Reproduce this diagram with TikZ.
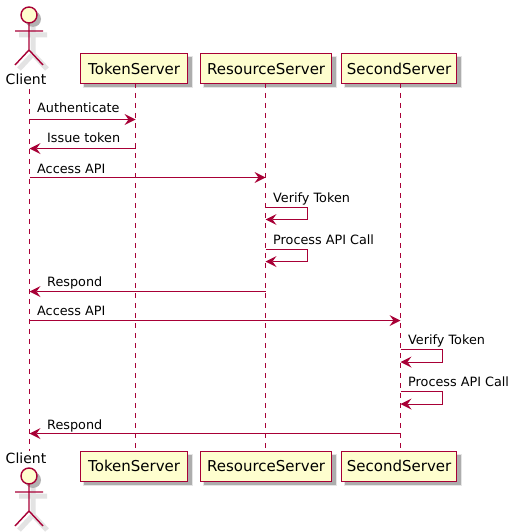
\documentclass[tikz,border=0pt]{standalone}
\usepackage{fontspec}
\setmainfont{DejaVu Sans}
\usetikzlibrary{arrows.meta}
\definecolor{pumlred}{HTML}{A80036}
\definecolor{pumlfill}{HTML}{FEFECE}
\tikzset{
  lifeline/.style={draw=pumlred,line width=0.8pt,dash pattern=on 5pt off 5pt},
  msg/.style={draw=pumlred,line width=0.9pt,-{Stealth[length=11pt,width=11pt,inset=4pt,fill=pumlred,line width=0pt]}},
  msglabel/.style={font=\fontsize{12.8}{15}\selectfont,anchor=base west,inner sep=0pt,text=black},
  partbox/.style={draw=pumlred,fill=pumlfill,line width=1.3pt,font=\fontsize{15}{16}\selectfont,text=black,minimum height=30pt,inner sep=0pt,anchor=north west},
  actorlabel/.style={font=\fontsize{14}{16}\selectfont,text=black,inner sep=0pt,anchor=base},
}
\newcommand{\actorshadow}[2]{%
  \begin{scope}[shift={(#1+4,#2+4)}]
    \fill[black!30] (0,0) circle (8);
    \draw[black!11,line width=5pt] (0,8)--(0,35) (-14,16)--(14,16) (0,35)--(-14,50) (0,35)--(14,50);
  \end{scope}}
\newcommand{\actorfig}[2]{%
  \begin{scope}[shift={(#1,#2)}]
    \draw[pumlred,line width=1.4pt,fill=pumlfill] (0,0) circle (8);
    \draw[pumlred,line width=1.4pt] (0,8)--(0,35) (-14,16)--(14,16) (0,35)--(-14,50) (0,35)--(14,50);
  \end{scope}}
\begin{document}
\begin{tikzpicture}[x=1pt,y=-1pt]
\useasboundingbox[fill=white] (0,0) rectangle (514,532);
% shadows of the boxes
\foreach \l/\r in {80/187,200/331,341/456}{
  \foreach \t in {53,450.5}{
    \fill[black!10] (\l+3,\t+3) rectangle (\r+5.5,\t+35.5);
    \fill[black!32] (\l+4,\t+4) rectangle (\r+4.5,\t+34.5);
  }
}
\actorshadow{29}{15}
\actorshadow{29}{476}
% participants
\node[partbox,minimum width=107pt] (tokentop) at (80,53) {TokenServer};
\node[partbox,minimum width=131pt] (restop) at (200,53) {ResourceServer};
\node[partbox,minimum width=115pt] (sectop) at (341,53) {SecondServer};
\node[partbox,minimum width=107pt] (tokenbot) at (80,450.5) {TokenServer};
\node[partbox,minimum width=131pt] (resbot) at (200,450.5) {ResourceServer};
\node[partbox,minimum width=115pt] (secbot) at (341,450.5) {SecondServer};
% actors
\actorfig{29}{15}
\actorfig{29}{476}
\node[actorlabel] (clienttop) at (26,85) {Client};
\node[actorlabel] (clientbot) at (26,463) {Client};
% lifeline ends
\coordinate (cta) at (29.5,89);
\coordinate (cba) at (29.5,451);
\coordinate (tta) at (135.5,83);
\coordinate (tba) at (135.5,450.5);
\coordinate (rta) at (265.5,83);
\coordinate (rba) at (265.5,450.5);
\coordinate (sta) at (400.5,83);
\coordinate (sba) at (400.5,450.5);
\draw[lifeline] (cta) -- (cba);
\draw[lifeline] (tta) -- (tba);
\draw[lifeline] (rta) -- (rba);
\draw[lifeline] (sta) -- (sba);
% messages
\foreach \n/\y in {a/119.5,b/148.5,c/177.5,d/207,e/219.5,f/249,g/261.5,h/291.5,i/320.5,j/349.5,k/362,l/391.5,m/404,n/433.5}
  \coordinate (y\n) at (0,\y);
\draw[msg] (cta|-ya) -- (tta|-ya);
\node[msglabel] at (37,113) {Authenticate};
\draw[msg] (tta|-yb) -- (cta|-yb);
\node[msglabel] at (47,142) {Issue token};
\draw[msg] (cta|-yc) -- (rta|-yc);
\node[msglabel] at (37,173) {Access API};
\draw[msg] (rta|-yd) -- ++(42,0) |- (rta|-ye);
\node[msglabel] at (273,202) {Verify Token};
\draw[msg] (rta|-yf) -- ++(42,0) |- (rta|-yg);
\node[msglabel] at (273,244) {Process API Call};
\draw[msg] (rta|-yh) -- (cta|-yh);
\node[msglabel] at (47,286) {Respond};
\draw[msg] (cta|-yi) -- (sta|-yi);
\node[msglabel] at (37,315) {Access API};
\draw[msg] (sta|-yj) -- ++(42,0) |- (sta|-yk);
\node[msglabel] at (408,344) {Verify Token};
\draw[msg] (sta|-yl) -- ++(42,0) |- (sta|-ym);
\node[msglabel] at (408,386) {Process API Call};
\draw[msg] (sta|-yn) -- (cta|-yn);
\node[msglabel] at (47,429) {Respond};
\end{tikzpicture}
\end{document}
